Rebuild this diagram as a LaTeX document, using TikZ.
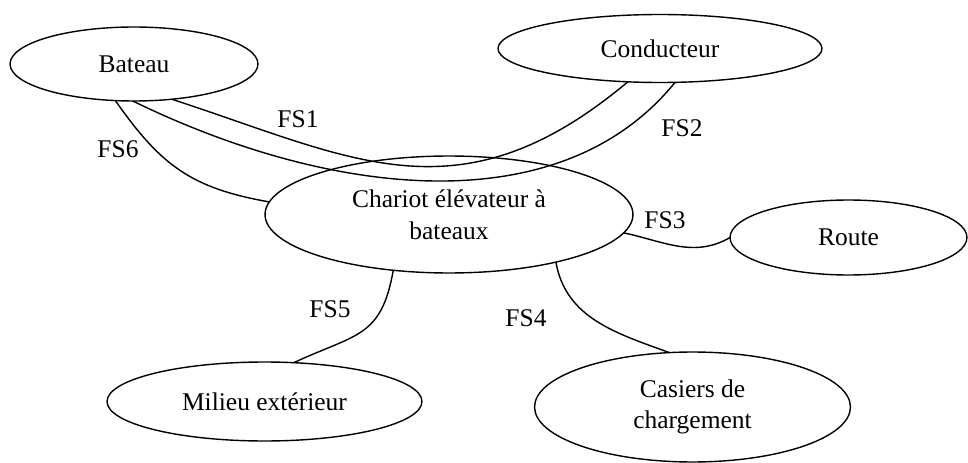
\documentclass[tikz,border=0pt]{standalone}
\usepackage{fontspec}
\setmainfont{Liberation Serif}
\usetikzlibrary{shapes.geometric}

\begin{document}
\begin{tikzpicture}[x=0.02cm, y=0.02cm, line width=0.8pt,
  every node/.style={font=\fontsize{14.5}{18}\selectfont},
  bloc/.style={draw, ellipse, inner sep=0pt, outer sep=0pt, align=center}]
  \useasboundingbox (0,0) rectangle (968,-463);

  % ellipses
  \node[bloc, minimum width=4.96cm, minimum height=1.48cm] (bateau) at (134,-64) {Bateau};
  \node[bloc, minimum width=6.48cm, minimum height=1.36cm] (cond) at (660,-48.5) {Conducteur};
  \node[bloc, minimum width=7.36cm, minimum height=2.34cm] (chariot) at (449,-214.5) {Chariot élévateur à\\bateaux};
  \node[bloc, minimum width=4.74cm, minimum height=1.5cm] (route) at (848.5,-237.5) {Route};
  \node[bloc, minimum width=6.3cm, minimum height=1.58cm] (milieu) at (264.5,-401.5) {Milieu extérieur};
  \node[bloc, minimum width=6.32cm, minimum height=2.2cm] (casiers) at (692.5,-407) {Casiers de\\chargement};

  % functions
  \draw (bateau.-43) to[out=-18, in=220, out distance=3.8cm, in distance=4.4cm] (cond.226);
  \draw (bateau.-92) to[out=-26, in=231, out distance=4.4cm, in distance=3.65cm] (cond.-66);
  \draw (chariot.-6) to[out=-12, in=210] (route.180);
  \draw (chariot.-24) to[out=-80, in=160] (casiers.113);
  \draw (chariot.225) to[out=-100, in=25, looseness=1.3] (milieu.53);
  \draw (bateau.-117) to[out=-55, in=170, looseness=1.1] (chariot.176);

  % labels
  \node (fs1) at (298,-119) {FS1};
  \node (fs2) at (682,-128) {FS2};
  \node (fs3) at (665,-220) {FS3};
  \node (fs4) at (526,-318) {FS4};
  \node (fs5) at (330,-309) {FS5};
  \node (fs6) at (118,-149) {FS6};
\end{tikzpicture}
\end{document}
